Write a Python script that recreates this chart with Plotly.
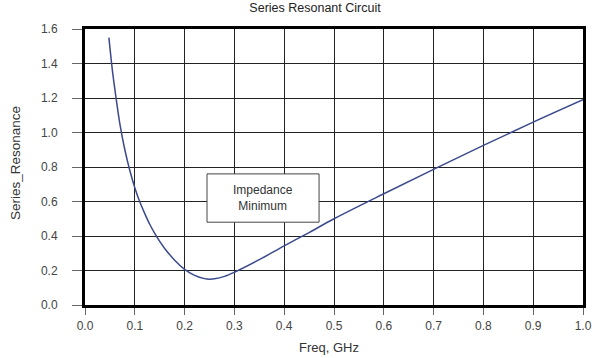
import plotly.graph_objects as go

freq_ghz = [0.048, 0.055, 0.06, 0.07, 0.08, 0.09, 0.10, 0.11, 0.12, 0.13, 0.14, 0.15,
            0.16, 0.18, 0.20, 0.22, 0.24, 0.25, 0.26, 0.28, 0.30, 0.35, 0.40, 0.45,
            0.50, 0.60, 0.70, 0.80, 0.90, 1.00]
series_resonance = [1.55, 1.36, 1.25, 1.05, 0.90, 0.78, 0.68, 0.598, 0.53, 0.468, 0.415, 0.369,
                    0.328, 0.26, 0.207, 0.172, 0.153, 0.150, 0.152, 0.166, 0.19, 0.263, 0.343, 0.42,
                    0.50, 0.645, 0.786, 0.925, 1.06, 1.19]

x_ticks = [0.0, 0.1, 0.2, 0.3, 0.4, 0.5, 0.6, 0.7, 0.8, 0.9, 1.0]
y_ticks = [0.0, 0.2, 0.4, 0.6, 0.8, 1.0, 1.2, 1.4, 1.6]
title_text = "Series Resonant Circuit"
x_title = "Freq, GHz"
y_title = "Series_Resonance"
note_text = "Impedance<br>Minimum"

font_family = "Liberation Sans, Arial, sans-serif"

fig = go.Figure()
fig.add_trace(go.Scatter(
    x=freq_ghz, y=series_resonance, mode="lines",
    line=dict(color="#3b4a8c", width=1.5, shape="spline", smoothing=1.0),
    showlegend=False, hoverinfo="skip"))

fig.add_shape(type="rect", xref="x", yref="y", x0=0.245, x1=0.47, y0=0.48, y1=0.76,
              line=dict(color="#444444", width=1), fillcolor="white", layer="above")
fig.add_annotation(x=0.3575, y=0.62, xref="x", yref="y", text=note_text, showarrow=False,
                   font=dict(family=font_family, size=12, color="#333333"))

# axis titles
fig.add_annotation(xref="paper", yref="paper", x=0, y=0.5, xanchor="center", yanchor="middle",
                   xshift=-70, yshift=4, text=y_title, textangle=-90, showarrow=False,
                   font=dict(family=font_family, size=13.5, color="#333333"))
fig.add_annotation(xref="paper", yref="paper", x=0.49, y=0, xanchor="center", yanchor="middle",
                   yshift=-42, text=x_title, showarrow=False,
                   font=dict(family=font_family, size=13, color="#333333"))

axis_common = dict(
    showgrid=True, gridcolor="#222222", gridwidth=1,
    showline=True, linecolor="black", linewidth=3, mirror=True,
    ticks="outside", tickcolor="#666666", tickwidth=1,
    tickfont=dict(family=font_family, size=12, color="#444444"),
    tickformat=".1f", zeroline=False, automargin=False,
)

fig.update_layout(
    width=600, height=358,
    margin=dict(l=85, r=17, t=29, b=53),
    paper_bgcolor="white", plot_bgcolor="white",
    title=dict(text=title_text, x=0.525, xanchor="center", xref="container",
               y=0.98, yanchor="middle", yref="container",
               font=dict(family=font_family, size=12.5, color="#222222")),
    xaxis=dict(axis_common, range=[0, 1.0], tickvals=x_ticks, ticklen=7, ticklabelstandoff=1),
    yaxis=dict(axis_common, range=[0, 1.6], tickvals=y_ticks, ticklen=10, ticklabelstandoff=12),
)

fig.write_html("out.html", config={"displayModeBar": False},
               post_script="document.body.style.margin='0';")
